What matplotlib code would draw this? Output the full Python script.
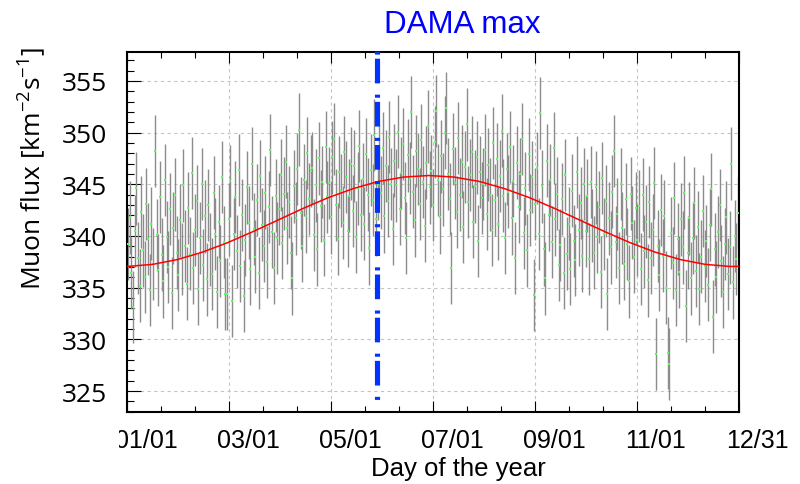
import numpy as np
import matplotlib
matplotlib.use('Agg')
import matplotlib.pyplot as plt
import matplotlib.transforms as mtransforms
from matplotlib.ticker import MultipleLocator, FixedLocator
from matplotlib.patches import Rectangle

plt.rcParams['font.family'] = ['Open Sans', 'DejaVu Sans']
plt.rcParams['mathtext.default'] = 'regular'

# daily muon flux, one list per month
jan = [339.2, 341.8, 336.4, 333.1, 340.5, 344.6, 337.9, 335.2, 342.3, 338.6, 336.0, 343.1, 339.7, 334.8, 341.2, 337.3,
       348.2, 340.1, 336.7, 343.8, 338.2, 335.6, 345.4, 339.9, 337.0, 342.6, 334.5, 340.8, 344.0, 338.4, 336.2]
feb = [341.5, 337.8, 344.9, 339.0, 335.4, 342.7, 338.3, 346.1, 336.9, 340.6, 343.4, 334.9, 339.8, 345.0, 337.2, 341.9,
       335.8, 343.0, 338.7, 336.3, 344.2, 340.2, 334.6, 341.4, 337.6, 345.7, 339.4, 334.4]
mar = [334.4, 341.6, 345.3, 333.7, 340.2, 343.8, 338.5, 346.4, 337.1, 342.0, 334.2, 339.6, 344.7, 341.3, 336.8, 347.0,
       340.7, 338.0, 343.5, 336.4, 345.8, 341.1, 339.0, 344.2, 337.5, 342.8, 348.3, 340.4, 336.9, 343.9, 339.8]
apr = [342.6, 345.9, 339.3, 344.1, 347.2, 340.8, 343.3, 338.4, 335.9, 344.8, 341.7, 346.5, 350.3, 342.2, 339.0, 345.4,
       341.9, 348.0, 343.6, 346.3, 346.6, 340.1, 344.9, 338.7, 347.5, 342.9, 345.2, 339.6, 348.6, 343.8]
may = [345.1, 341.8, 347.6, 349.4, 343.0, 339.7, 346.2, 344.4, 341.3, 348.1, 345.7, 340.5, 343.9, 347.0, 342.4, 346.8,
       339.9, 344.6, 348.7, 342.0, 345.5, 341.2, 347.9, 344.0, 338.8, 346.4, 343.5, 349.8, 341.6, 345.0, 347.3]
jun = [344.2, 348.5, 341.9, 346.8, 343.4, 349.6, 345.0, 340.7, 347.3, 344.9, 350.1, 342.6, 346.1, 348.9, 343.7, 339.8,
       347.8, 345.6, 352.0, 344.3, 341.5, 348.2, 346.5, 343.1, 349.3, 345.2, 341.0, 347.1, 350.6, 344.7]
jul = [346.3, 343.0, 349.1, 352.1, 345.4, 341.8, 347.7, 344.5, 350.0, 352.4, 346.0, 343.6, 336.9, 348.4, 345.1, 342.3,
       349.5, 344.0, 347.2, 340.9, 346.7, 350.8, 343.3, 345.9, 348.1, 341.4, 344.8, 347.6, 339.5, 346.2, 343.7]
aug = [345.0, 348.3, 342.1, 346.9, 344.0, 340.6, 349.0, 343.5, 347.4, 341.2, 345.8, 350.2, 343.9, 339.8, 346.5, 344.3,
       348.6, 341.7, 345.3, 337.9, 347.1, 342.8, 346.0, 349.4, 340.3, 344.6, 338.6, 347.9, 342.5, 345.7, 334.3]
sep = [343.1, 346.6, 340.2, 351.9, 344.8, 338.7, 335.9, 347.3, 342.0, 345.4, 339.4, 348.5, 341.6, 344.1, 337.2, 339.1,
       343.6, 336.4, 345.9, 338.3, 341.2, 336.8, 344.4, 339.5, 337.7, 346.2, 340.6, 343.2, 338.1, 345.0]
oct = [340.5, 343.9, 337.8, 345.2, 341.0, 338.4, 344.7, 339.9, 342.8, 336.5, 345.6, 340.2, 343.4, 334.4, 341.7, 338.9,
       344.3, 348.2, 339.4, 342.1, 336.9, 345.0, 340.8, 337.3, 343.6, 339.2, 335.6, 344.1, 341.3, 338.0, 342.7]
nov = [339.6, 342.9, 336.8, 344.0, 338.5, 341.4, 335.7, 343.3, 337.9, 340.6, 345.1, 328.6, 339.0, 336.2, 342.5, 338.1,
       341.9, 335.0, 328.7, 327.6, 340.3, 337.4, 343.7, 334.8, 339.7, 336.5, 341.6, 338.9, 344.2, 333.2]
dec = [338.4, 341.7, 335.9, 339.8, 343.2, 336.6, 340.9, 334.9, 338.0, 342.4, 337.1, 339.5, 335.3, 341.1, 344.5, 332.2,
       338.7, 336.0, 340.4, 343.0, 337.6, 334.6, 339.2, 341.8, 336.3, 338.9, 347.0, 335.5, 340.0, 337.8, 342.2]
flux = jan + feb + mar + apr + may + jun + jul + aug + sep + oct + nov + dec
days = np.arange(len(flux)) + 0.5
flux_err = 3.5

# fitted curve, read every 15 days
fit_days = [0, 15, 30, 45, 60, 75, 90, 105, 120, 135, 150, 165, 180, 195, 210, 225, 240, 255, 270, 285, 300, 315,
            330, 345, 360, 365]
fit_flux = [337.05, 337.25, 337.72, 338.44, 339.36, 340.42, 341.54, 342.67, 343.71, 344.59, 345.28, 345.70, 345.85,
            345.70, 345.28, 344.59, 343.71, 342.67, 341.54, 340.42, 339.36, 338.44, 337.72, 337.25, 337.05, 337.06]

dama_day = 149
xtick_days = [0, 60.83, 121.67, 182.5, 243.33, 304.17, 365]
xtick_labels = ['01/01', '03/01', '05/01', '07/01', '09/01', '11/01', '12/31']

fig = plt.figure(figsize=(8, 4.85), dpi=100)
ax = fig.add_axes([0.159, 0.1491, 0.7646, 0.7416])

ax.errorbar(days, flux, yerr=flux_err, fmt='none', ecolor='#8c8c8c', elinewidth=1.0, capsize=0, zorder=2)
ax.plot(days, flux, 's', color='#55ff55', ms=1.8, mew=0, zorder=3)
ax.plot(fit_days, fit_flux, color='#ff0000', lw=1.1, zorder=4)
ax.plot([dama_day, dama_day], [357.9, 323.85], color='#0033ff', lw=3.7,
        dashes=(0.6, 0.8, 4.8, 2.2), clip_on=False, zorder=5)

ax.set_xlim(0, 365)
ax.set_ylim(323, 357.8)

ax.xaxis.set_major_locator(FixedLocator(xtick_days))
ax.xaxis.set_minor_locator(MultipleLocator(365 / 18))
ax.yaxis.set_major_locator(MultipleLocator(5))
ax.yaxis.set_minor_locator(MultipleLocator(1))

ax.tick_params(axis='x', which='both', direction='in', top=True, bottom=True, labelbottom=False, width=0.8)
ax.tick_params(axis='x', which='major', length=8)
ax.tick_params(axis='x', which='minor', length=4.3)
ax.tick_params(axis='y', which='both', direction='in', left=True, right=False, width=0.8)
ax.tick_params(axis='y', which='major', length=10, labelsize=19, pad=14.5)
ax.tick_params(axis='y', which='minor', length=5)

ax.grid(True, which='major', color='#c4c4c4', linestyle=(0, (3, 3)), lw=0.8)
ax.set_axisbelow(True)
for s in ax.spines.values():
    s.set_linewidth(1.5)

# ROOT style x labels, slightly shifted right of their ticks
trans = mtransforms.blended_transform_factory(ax.transData, ax.transAxes) + \
    mtransforms.ScaledTranslation(19 / 100, -35 / 100, fig.dpi_scale_trans)
for d, lab in zip(xtick_days, xtick_labels):
    ax.text(d, 0, lab, transform=trans, ha='center', va='baseline', fontsize=18,
            family='Liberation Sans', clip_on=False)
fig.patches.append(Rectangle((100 / 800, 1 - 455 / 485), 18.5 / 800, 35 / 485, transform=fig.transFigure,
                             facecolor='white', edgecolor='none', zorder=10))

fig.text(458.6 / 800, 1 - 476 / 485, 'Day of the year', ha='center', va='baseline', fontsize=18.5,
         family='Liberation Sans')
fig.text(32 / 800, 1 - 47 / 485, 'Muon flux [km$^{-2}$s$^{-1}$]', rotation=90, ha='center', va='top', fontsize=19)
fig.text(462.5 / 800, 1 - 33.3 / 485, 'DAMA max', ha='center', va='baseline', fontsize=22.5, color='#0000ff',
         family='Liberation Sans')

fig.savefig('out.png', dpi=100)
